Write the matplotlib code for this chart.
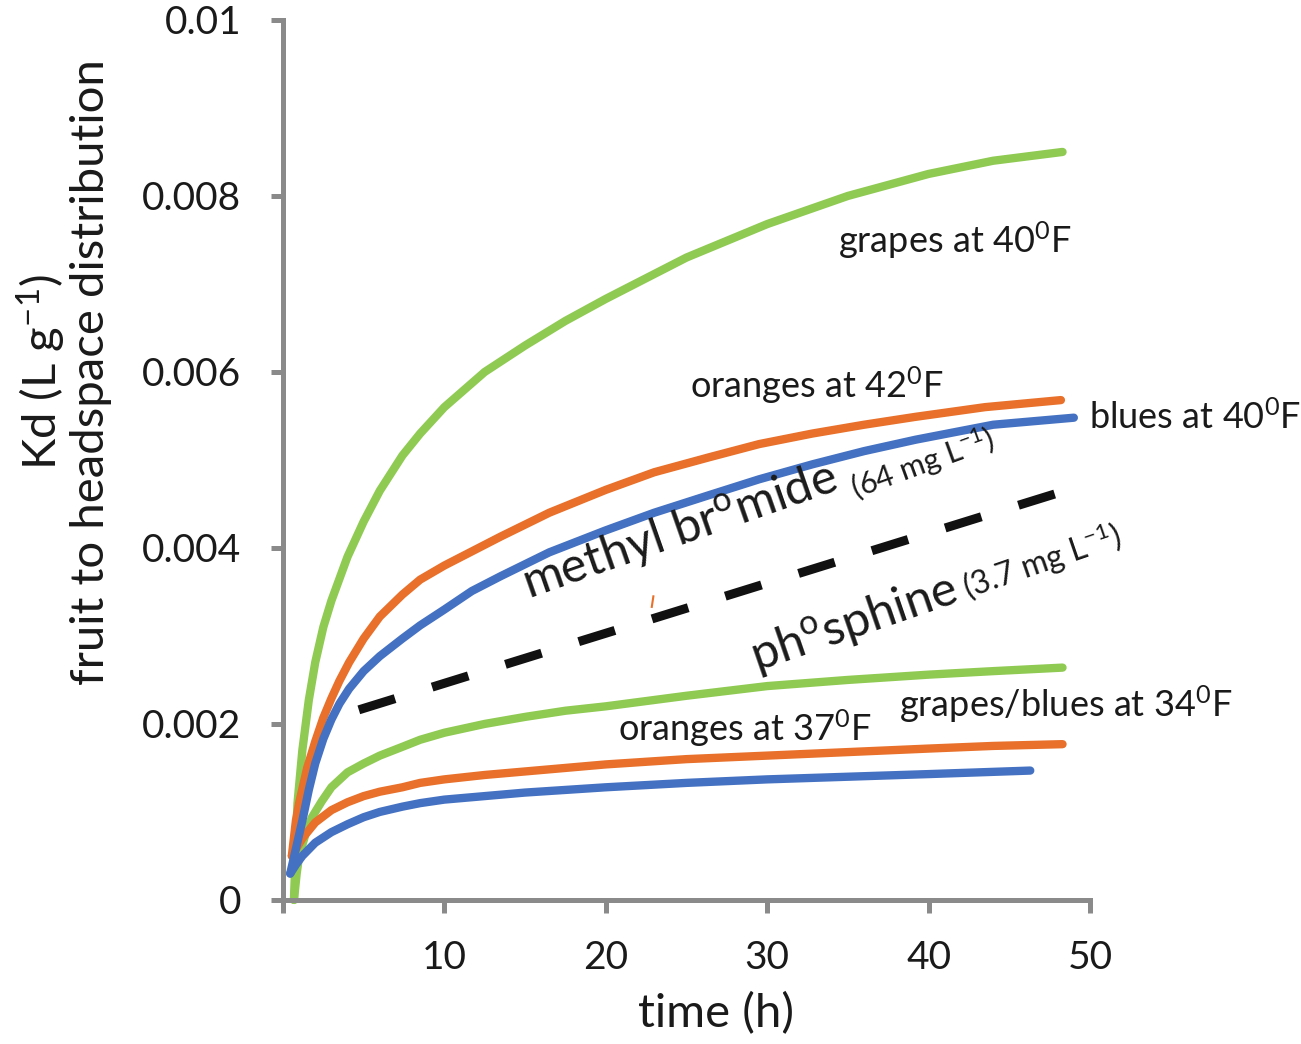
# coding:utf8
import numpy as np
import matplotlib.pyplot as plt
from matplotlib import rcParams

rcParams['font.family'] = ['Lato', 'DejaVu Sans']
rcParams['mathtext.fontset'] = 'custom'
rcParams['mathtext.rm'] = 'Lato'
rcParams['mathtext.it'] = 'Lato:italic'
rcParams['mathtext.default'] = 'regular'

# values: time (h), Kd (L/g)
t_grape40 = [0.68, 0.9, 1.2, 1.6, 2.0, 2.5, 3.0, 3.5, 4.0, 5.0, 6.0, 7.4, 8.5, 10, 12.5, 15,
             17.5, 20, 25, 30, 35, 40, 44, 48.3]
kd_grape40 = [0.0, 0.0011, 0.0017, 0.00227, 0.0027, 0.0031, 0.0034, 0.00365, 0.0039, 0.0043,
              0.00465, 0.00505, 0.0053, 0.0056, 0.0060, 0.0063, 0.00658, 0.00683, 0.0073,
              0.00768, 0.0080, 0.00825, 0.0084, 0.0085]

t_orange42 = [0.55, 0.8, 1.0, 1.5, 2.0, 2.5, 3.0, 3.5, 4.1, 5.0, 6.0, 7.4, 8.5, 10, 13.5, 16.5,
              20, 23, 26.4, 29.5, 32.8, 36, 39.2, 43.5, 48.2]
kd_orange42 = [0.0005, 0.0009, 0.0011, 0.0015, 0.0018, 0.00207, 0.00229, 0.00249, 0.0027,
               0.00297, 0.00322, 0.00347, 0.00364, 0.0038, 0.00413, 0.0044, 0.00466, 0.00486,
               0.00503, 0.00518, 0.0053, 0.0054, 0.00549, 0.0056, 0.00568]

t_blue40 = [0.45, 0.8, 1.2, 1.6, 2.0, 2.5, 3.0, 3.5, 4.1, 5.0, 6.0, 7.4, 8.5, 10, 11.7, 13.5,
            16.5, 20, 23, 26.4, 29.5, 32.8, 36, 39.2, 44, 49.0]
kd_blue40 = [0.0003, 0.00058, 0.0009, 0.00125, 0.00155, 0.00183, 0.00205, 0.00223, 0.0024,
             0.0026, 0.00277, 0.00297, 0.00312, 0.0033, 0.00351, 0.00368, 0.00395, 0.0042,
             0.0044, 0.0046, 0.00478, 0.00495, 0.0051, 0.00523, 0.0054, 0.00548]

t_grape34 = [0.68, 0.85, 1.0, 1.4, 1.8, 2.4, 3.0, 4.0, 5.0, 6.0, 7.4, 8.5, 10, 12.5, 15, 17.5,
             20, 25, 30, 35, 40, 44, 48.3]
kd_grape34 = [0.0, 0.0003, 0.0005, 0.00075, 0.00094, 0.00112, 0.00128, 0.00145, 0.00155,
              0.00164, 0.00174, 0.00182, 0.0019, 0.0020, 0.00208, 0.00215, 0.0022, 0.00232,
              0.00243, 0.0025, 0.00256, 0.0026, 0.00264]

t_orange37 = [0.55, 1.2, 2.0, 3.0, 4.0, 5.0, 6.0, 7.4, 8.5, 10, 12.5, 15, 17.5, 20, 25, 30, 35,
              40, 44, 48.3]
kd_orange37 = [0.0005, 0.0007, 0.00088, 0.00102, 0.00111, 0.00118, 0.00123, 0.00128, 0.00133,
               0.00137, 0.00142, 0.00146, 0.0015, 0.00154, 0.0016, 0.00164, 0.00168, 0.00172,
               0.00175, 0.00177]

t_blue34 = [0.45, 0.8, 1.2, 2.0, 3.0, 4.0, 5.0, 6.0, 7.4, 8.5, 10, 12.5, 15, 20, 25, 30, 35, 40,
            46.3]
kd_blue34 = [0.0003, 0.0004, 0.0005, 0.00065, 0.00077, 0.00086, 0.00094, 0.001, 0.00106, 0.0011,
             0.00114, 0.00118, 0.00122, 0.00128, 0.00133, 0.00137, 0.0014, 0.00143, 0.00147]

t_phos = [4.7, 49.7]
kd_phos = [0.00216, 0.00472]

t_stray = [22.85, 22.95]
kd_stray = [0.00333, 0.00345]

xticks = [0, 10, 20, 30, 40, 50]
xticklabels = ['', '10', '20', '30', '40', '50']
yticks = [0, 0.002, 0.004, 0.006, 0.008, 0.01]
yticklabels = ['0', '0.002', '0.004', '0.006', '0.008', '0.01']

green = '#8fca53'
orange = '#e8702a'
blue = '#4471c2'
grey = '#8a8a8a'
tc = '#1a1a1a'

fig = plt.figure(figsize=(13.01, 10.44), dpi=100)
ax = fig.add_axes([0.2175, 0.138, 0.6203, 0.8429])

lw = 6
for t, kd, c in [(t_grape40, kd_grape40, green), (t_grape34, kd_grape34, green),
                 (t_orange42, kd_orange42, orange), (t_orange37, kd_orange37, orange),
                 (t_blue40, kd_blue40, blue), (t_blue34, kd_blue34, blue)]:
    ax.plot(t, kd, color=c, lw=lw, solid_capstyle='round', solid_joinstyle='round', clip_on=False)

ax.plot(t_phos, kd_phos, color='#111111', lw=6.5, dashes=(4.2, 4.3), dash_capstyle='butt')
ax.plot(t_stray, kd_stray, color=orange, lw=1.5)

ax.set_xlim(0, 50)
ax.set_ylim(0, 0.01)
ax.set_xticks(xticks)
ax.set_xticklabels(xticklabels)
ax.set_yticks(yticks)
ax.set_yticklabels(yticklabels)

for s in ['top', 'right']:
    ax.spines[s].set_visible(False)
for s in ['left', 'bottom']:
    ax.spines[s].set_color(grey)
    ax.spines[s].set_linewidth(3.6)
ax.tick_params(direction='out', length=9, width=3.6, color=grey, labelsize=28, labelcolor=tc)
ax.tick_params(axis='x', pad=20)
ax.tick_params(axis='y', pad=21)

ax.set_xlabel('time (h)', fontsize=34, color=tc)
ax.xaxis.set_label_coords(0.537, -0.105)
fig.text(63 / 1301, 1 - 372 / 1044, 'Kd (L g$^{-1}$)\nfruit to headspace distribution',
         rotation=90, ha='center', va='center', multialignment='center', fontsize=34,
         color=tc, linespacing=1.05)

ax.text(41.6, 0.0075, 'grapes at 40$^{0}$F', fontsize=26, ha='center', va='center', color=tc)
ax.text(33.1, 0.00585, 'oranges at 42$^{0}$F', fontsize=26, ha='center', va='center', color=tc)
ax.text(56.5, 0.00549, 'blues at 40$^{0}$F', fontsize=26, ha='center', va='center', color=tc)
ax.text(48.5, 0.00222, 'grapes/blues at 34$^{0}$F', fontsize=26, ha='center', va='center', color=tc)
ax.text(28.6, 0.00195, 'oranges at 37$^{0}$F', fontsize=26, ha='center', va='center', color=tc)

ax.text(24.6, 0.00419, 'methyl br$^{o}$mide', fontsize=35, rotation=19.3, ha='center',
        va='center', rotation_mode='anchor', color=tc)
ax.text(39.6, 0.00496, '(64 mg L$^{-1}$)', fontsize=22, rotation=20, ha='center',
        va='center', rotation_mode='anchor', color=tc)
ax.text(35.4, 0.00314, 'ph$^{o}$sphine', fontsize=35, rotation=19, ha='center',
        va='center', rotation_mode='anchor', color=tc)
ax.text(47.0, 0.00384, '(3.7 mg L$^{-1}$)', fontsize=23, rotation=19, ha='center',
        va='center', rotation_mode='anchor', color=tc)

fig.savefig('out.png', dpi=100)
